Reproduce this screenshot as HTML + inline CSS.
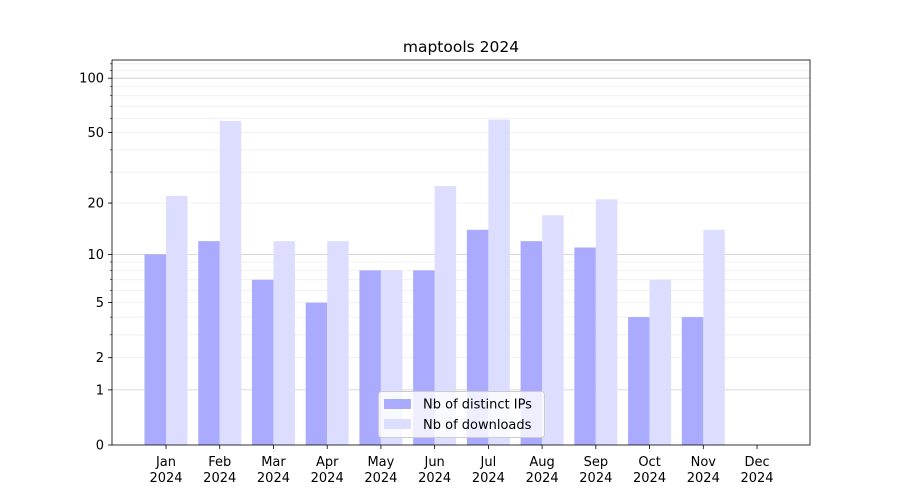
<!DOCTYPE html>
<html><head><meta charset="utf-8"><style>
html,body{margin:0;padding:0;background:#fff;}
svg{display:block;font-family:"DejaVu Sans","Liberation Sans",sans-serif;}
</style></head><body>
<svg id="s" width="900" height="500" xmlns="http://www.w3.org/2000/svg"></svg>
<script>
var s=document.getElementById('s'),h='';
function Y(v){return 445-183*Math.log10(1+v);}
// grid
var minors=[2,3,4,5,6,7,8,9,20,30,40,50,60,70,80,90,110,120];
minors.forEach(function(v){var y=Y(v).toFixed(1);h+='<line x1="112" x2="810" y1="'+y+'" y2="'+y+'" stroke="#eeeeee" stroke-width="0.8"/>';});
[1,10,100].forEach(function(v){var y=Y(v).toFixed(1);h+='<line x1="112" x2="810" y1="'+y+'" y2="'+y+'" stroke="#cccccc" stroke-width="0.8"/>';});
var ip=[10,12,7,5,8,8,14,12,11,4,4,0],dl=[22,58,12,12,8,25,59,17,21,7,14,0];
var m=['Jan','Feb','Mar','Apr','May','Jun','Jul','Aug','Sep','Oct','Nov','Dec'];
for(var i=0;i<12;i++){var c=166+i*53.73;
 if(ip[i]>0){var y=Y(ip[i]);h+='<rect x="'+(c-21.5)+'" y="'+y+'" width="21.5" height="'+(445-y)+'" fill="#aaaaff"/>';}
 if(dl[i]>0){var y2=Y(dl[i]);h+='<rect x="'+c+'" y="'+y2+'" width="21.5" height="'+(445-y2)+'" fill="#ddddff"/>';}
 h+='<line x1="'+c+'" x2="'+c+'" y1="445" y2="449" stroke="#000" stroke-width="0.8"/>';
 h+='<text x="'+c+'" y="466" font-size="13" text-anchor="middle">'+m[i]+'</text><text x="'+c+'" y="482" font-size="13" text-anchor="middle">2024</text>';
}
[[0,'0'],[1,'1'],[2,'2'],[5,'5'],[10,'10'],[20,'20'],[50,'50'],[100,'100']].forEach(function(t){var y=Y(t[0]);
 h+='<line x1="108" x2="112" y1="'+y+'" y2="'+y+'" stroke="#000" stroke-width="0.8"/>';
 h+='<text x="104" y="'+(y+4.5)+'" font-size="13" text-anchor="end">'+t[1]+'</text>';});
minors.forEach(function(v){var y=Y(v);if(y>60)h+='<line x1="110" x2="112" y1="'+y+'" y2="'+y+'" stroke="#000" stroke-width="0.6"/>';});
h+='<rect x="112" y="60" width="698" height="385" fill="none" stroke="#000" stroke-width="0.8"/>';
h+='<text x="461" y="52" font-size="15.5" text-anchor="middle">maptools 2024</text>';
h+='<rect x="378.5" y="391.5" width="166" height="46" rx="3" fill="#fff" fill-opacity="0.8" stroke="#cccccc"/>';
h+='<rect x="384" y="399" width="27" height="10" fill="#aaaaff"/><text x="423" y="408.5" font-size="13">Nb of distinct IPs</text>';
h+='<rect x="384" y="419" width="27" height="10" fill="#ddddff"/><text x="423" y="429" font-size="13">Nb of downloads</text>';
s.innerHTML=h;
</script>
</body></html>
